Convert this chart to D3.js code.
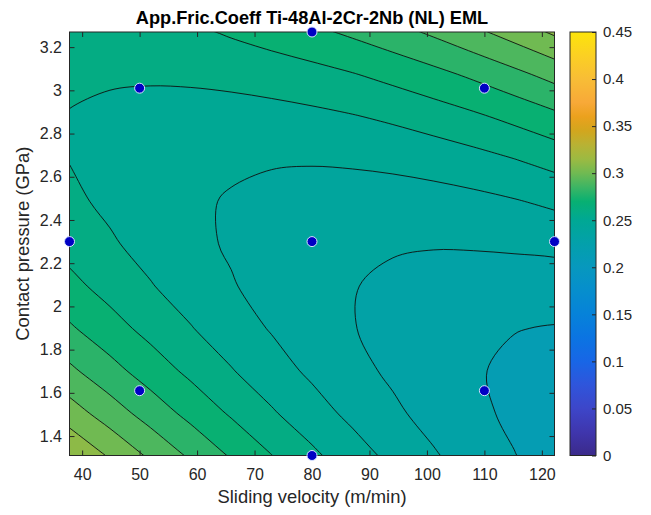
<!DOCTYPE html>
<html><head><meta charset="utf-8">
<script src="https://cdn.jsdelivr.net/npm/d3@7"></script>
<style>
body{margin:0;background:#fff;}
text{font-family:"Liberation Sans",Arial,Helvetica,sans-serif;}
</style></head>
<body><svg id="chart" width="651" height="515"></svg>
<script>
// ---------- data ----------
const titleText = "App.Fric.Coeff Ti-48Al-2Cr-2Nb (NL) EML";
const xLabel = "Sliding velocity (m/min)";
const yLabel = "Contact pressure (GPa)";
const xDomain = [37.8, 122.2];
const yDomain = [1.31, 3.27];
const xTicks = [40, 50, 60, 70, 80, 90, 100, 110, 120];
const yTicks = [1.4, 1.6, 1.8, 2, 2.2, 2.4, 2.6, 2.8, 3, 3.2];
const cbarDomain = [0, 0.45];
const cbarTicks = [0, 0.05, 0.1, 0.15, 0.2, 0.25, 0.3, 0.35, 0.4, 0.45];
const levels = [0.23, 0.24, 0.25, 0.26, 0.27, 0.28, 0.29, 0.30, 0.31];
const baseFillValue = 0.215;
// grid sample positions (x left->right, y top->bottom)
const gridXs = [30.77, 37.8, 44.83, 51.87, 58.9, 65.93, 72.97, 80, 87.03, 94.07, 101.1, 108.13, 115.17, 122.2, 129.23];
const gridYs = [3.466, 3.27, 3.074, 2.878, 2.682, 2.486, 2.29, 2.094, 1.898, 1.702, 1.506, 1.31, 1.114];
// friction coefficient at the grid samples (rows top -> bottom)
const zGrid = [
  [0.2707,0.2720,0.2739,0.2762,0.2791,0.2825,0.2865,0.2910,0.2962,0.3020,0.3084,0.3155,0.3233,0.3318,0.3410],
  [0.2656,0.2658,0.2665,0.2668,0.2681,0.2712,0.2744,0.2778,0.2818,0.2864,0.2917,0.2977,0.3043,0.3116,0.3196],
  [0.2626,0.2617,0.2612,0.2612,0.2617,0.2628,0.2645,0.2667,0.2695,0.2730,0.2771,0.2819,0.2874,0.2935,0.3004],
  [0.2618,0.2596,0.2580,0.2568,0.2562,0.2561,0.2566,0.2577,0.2594,0.2617,0.2647,0.2683,0.2726,0.2776,0.2833],
  [0.2630,0.2597,0.2569,0.2546,0.2528,0.2516,0.2509,0.2508,0.2514,0.2525,0.2543,0.2567,0.2599,0.2637,0.2683],
  [0.2664,0.2620,0.2580,0.2545,0.2516,0.2492,0.2473,0.2461,0.2454,0.2454,0.2460,0.2473,0.2493,0.2520,0.2554],
  [0.2719,0.2663,0.2612,0.2565,0.2524,0.2489,0.2459,0.2434,0.2418,0.2412,0.2407,0.2410,0.2417,0.2424,0.2446],
  [0.2795,0.2728,0.2664,0.2606,0.2554,0.2507,0.2465,0.2429,0.2405,0.2376,0.2359,0.2349,0.2345,0.2349,0.2359],
  [0.2893,0.2813,0.2739,0.2669,0.2605,0.2546,0.2493,0.2445,0.2404,0.2369,0.2340,0.2318,0.2303,0.2295,0.2294],
  [0.3011,0.2920,0.2834,0.2753,0.2677,0.2606,0.2541,0.2482,0.2429,0.2383,0.2342,0.2309,0.2282,0.2262,0.2250],
  [0.3151,0.3048,0.2950,0.2857,0.2770,0.2688,0.2611,0.2541,0.2476,0.2418,0.2366,0.2321,0.2282,0.2251,0.2226],
  [0.3312,0.3197,0.3088,0.2983,0.2884,0.2790,0.2702,0.2620,0.2544,0.2474,0.2410,0.2354,0.2303,0.2260,0.2225],
  [0.3494,0.3368,0.3247,0.3130,0.3020,0.2914,0.2815,0.2721,0.2633,0.2551,0.2476,0.2408,0.2346,0.2291,0.2244]
];
// design points
const pointX = [80, 80, 37.8, 122.2, 50, 50, 110, 110, 80];
const pointY = [1.31, 3.27, 2.3, 2.3, 1.61, 3.01, 1.61, 3.01, 2.3];
// colormap stops (parula-like, as in the colorbar)
const cmapVals = [0,0.025,0.05,0.075,0.1,0.125,0.15,0.175,0.2,0.225,0.25,0.27,0.285,0.3,0.315,0.33,0.345,0.36,0.375,0.4,0.425,0.45];
const cmapColors = ["#3b2a8a","#3f36ad","#3d46c9","#2f55db","#1866e6","#0b74e2","#0682d9","#068ecd","#0798be","#03a0ab","#00a894","#08b072","#3cb564","#70ba52","#9cba42","#b8b234","#d2a61e","#eba11d","#f8a938","#f8bd36","#fbd023","#fde40b"];

// ---------- layout ----------
const svg = d3.select("#chart");
const plot = {left: 69.5, right: 554.5, top: 32, bottom: 455.5};
const cbar = {left: 570, right: 596, top: 32, bottom: 455.5};
const axisColor = "#262626";
const tickFont = 16, labelFont = 18.4, titleFont = 18.2, cbarFont = 15;

const x = d3.scaleLinear().domain(xDomain).range([plot.left, plot.right]);
const y = d3.scaleLinear().domain(yDomain).range([plot.bottom, plot.top]);
const color = d3.scaleLinear().domain(cmapVals).range(cmapColors).interpolate(d3.interpolateRgb).clamp(true);

const defs = svg.append("defs");
defs.append("clipPath").attr("id", "plotClip").append("rect")
  .attr("x", plot.left).attr("y", plot.top)
  .attr("width", plot.right - plot.left).attr("height", plot.bottom - plot.top);

// ---------- filled contours ----------
const gPlot = svg.append("g").attr("clip-path", "url(#plotClip)");
gPlot.append("rect")
  .attr("x", plot.left).attr("y", plot.top)
  .attr("width", plot.right - plot.left).attr("height", plot.bottom - plot.top)
  .attr("fill", color(baseFillValue));

const nx = gridXs.length, ny = gridYs.length;
const contours = d3.contours().size([nx, ny]).thresholds(levels)(zGrid.flat());
const gx = d3.scaleLinear().domain([0.5, nx - 0.5]).range([x(gridXs[0]), x(gridXs[nx - 1])]);
const gy = d3.scaleLinear().domain([0.5, ny - 0.5]).range([y(gridYs[0]), y(gridYs[ny - 1])]);
const ringLine = d3.line().x(p => gx(p[0])).y(p => gy(p[1])).curve(d3.curveCatmullRomClosed.alpha(0.5));
function geomPath(geom) {
  return geom.coordinates.map(poly => poly.map(ring => ringLine(ring.slice(0, -1))).join("")).join("");
}
gPlot.selectAll("path.band").data(contours).join("path")
  .attr("class", "band")
  .attr("d", d => geomPath(d))
  .attr("fill", d => color(d.value))
  .attr("fill-rule", "evenodd")
  .attr("stroke", d => color(d.value))
  .attr("stroke-width", 0.3);
gPlot.selectAll("path.iso").data(contours).join("path")
  .attr("class", "iso")
  .attr("d", d => geomPath(d))
  .attr("fill", "none")
  .attr("stroke", "#101010")
  .attr("stroke-width", 0.9);

// ---------- axes ----------
const fmt = v => String(+v.toFixed(2));
function styleAxis(g, fs) {
  g.select(".domain").remove();
  g.selectAll(".tick line").attr("stroke", axisColor).attr("stroke-width", 1);
  g.selectAll(".tick text").attr("fill", axisColor).attr("font-size", fs)
    .attr("font-family", "'Liberation Sans', Arial, Helvetica, sans-serif");
}
svg.append("g").attr("transform", `translate(0,${plot.bottom})`)
  .call(d3.axisBottom(x).tickValues(xTicks).tickFormat(fmt).tickSizeInner(-5).tickSizeOuter(0).tickPadding(13))
  .call(g => styleAxis(g, tickFont));
svg.append("g").attr("transform", `translate(0,${plot.top})`)
  .call(d3.axisTop(x).tickValues(xTicks).tickFormat("").tickSizeInner(-5).tickSizeOuter(0))
  .call(g => styleAxis(g, tickFont));
svg.append("g").attr("transform", `translate(${plot.left},0)`)
  .call(d3.axisLeft(y).tickValues(yTicks).tickFormat(fmt).tickSizeInner(-5).tickSizeOuter(0).tickPadding(7.5))
  .call(g => styleAxis(g, tickFont));
svg.append("g").attr("transform", `translate(${plot.right},0)`)
  .call(d3.axisRight(y).tickValues(yTicks).tickFormat("").tickSizeInner(-5).tickSizeOuter(0))
  .call(g => styleAxis(g, tickFont));
svg.append("rect")
  .attr("x", plot.left).attr("y", plot.top)
  .attr("width", plot.right - plot.left).attr("height", plot.bottom - plot.top)
  .attr("fill", "none").attr("stroke", axisColor).attr("stroke-width", 1);

// ---------- design points ----------
svg.append("g").selectAll("circle").data(pointX.map((v, i) => [v, pointY[i]])).join("circle")
  .attr("cx", d => x(d[0])).attr("cy", d => y(d[1])).attr("r", 5)
  .attr("fill", "#0000c4").attr("stroke", "#d6e2ff").attr("stroke-width", 1);

// ---------- labels ----------
svg.append("text").attr("x", (plot.left + plot.right) / 2).attr("y", 24)
  .attr("text-anchor", "middle").attr("font-weight", "bold").attr("font-size", titleFont)
  .attr("fill", "#000").text(titleText);
svg.append("text").attr("x", (plot.left + plot.right) / 2).attr("y", 503)
  .attr("text-anchor", "middle").attr("font-size", labelFont).attr("fill", axisColor).text(xLabel);
svg.append("text").attr("transform", `translate(29,${(plot.top + plot.bottom) / 2}) rotate(-90)`)
  .attr("text-anchor", "middle").attr("font-size", labelFont).attr("fill", axisColor).text(yLabel);

// ---------- colorbar ----------
const cb = d3.scaleLinear().domain(cbarDomain).range([cbar.bottom, cbar.top]);
const grad = defs.append("linearGradient").attr("id", "cbarGrad")
  .attr("x1", 0).attr("y1", 1).attr("x2", 0).attr("y2", 0);
grad.selectAll("stop").data(cmapVals).join("stop")
  .attr("offset", v => (v - cbarDomain[0]) / (cbarDomain[1] - cbarDomain[0]))
  .attr("stop-color", (v, i) => cmapColors[i]);
svg.append("rect").attr("x", cbar.left).attr("y", cbar.top)
  .attr("width", cbar.right - cbar.left).attr("height", cbar.bottom - cbar.top)
  .attr("fill", "url(#cbarGrad)");
svg.append("g").attr("transform", `translate(${cbar.right},0)`)
  .call(d3.axisRight(cb).tickValues(cbarTicks).tickFormat(fmt).tickSizeInner(-4).tickSizeOuter(0).tickPadding(7))
  .call(g => styleAxis(g, cbarFont));
svg.append("rect").attr("x", cbar.left).attr("y", cbar.top)
  .attr("width", cbar.right - cbar.left).attr("height", cbar.bottom - cbar.top)
  .attr("fill", "none").attr("stroke", axisColor).attr("stroke-width", 1);
</script>
</body></html>
